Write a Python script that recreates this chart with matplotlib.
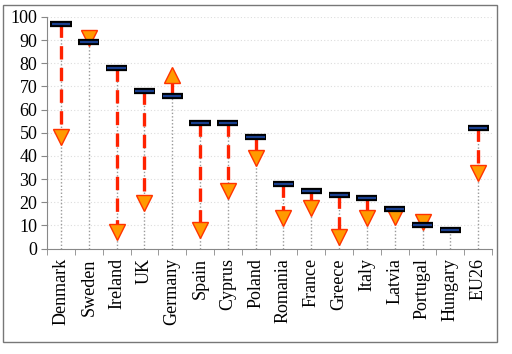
import matplotlib.pyplot as plt
import numpy as np
from matplotlib.patches import Rectangle

countries = ['Denmark', 'Sweden', 'Ireland', 'UK', 'Germany', 'Spain', 'Cyprus',
             'Poland', 'Romania', 'France', 'Greece', 'Italy', 'Latvia',
             'Portugal', 'Hungary', 'EU26']
# level before (dash markers) and level after (triangle markers)
before = [97, 89, 78, 68, 66, 54, 54, 48, 28, 25, 23, 22, 17, 10, 8, 52]
after = [48, 91, 7, 19.5, 75, 8, 25, 39, 13, 17.5, 5, 13, 13.5, 11.5, np.nan, 32.5]

plt.rcParams.update({'font.family': 'Liberation Serif', 'font.size': 13})

fig = plt.figure(figsize=(5.12, 3.54), dpi=100)
ax = fig.add_axes([0.092, 0.298, 0.869, 0.654])

x = np.arange(len(countries))
before = np.array(before, dtype=float)
after = np.array(after, dtype=float)

# grey drop lines down to the axis
ax.vlines(x, 0, before, colors='#999999', linestyles=(0, (1, 1.5)), linewidth=1, zorder=1)

# red dashed arrows from before to after
for xi, b, a in zip(x, before, after):
    if np.isnan(a) or abs(a - b) < 3:
        continue
    ax.plot([xi, xi], [b, a], color='#ff2200', linestyle=(0, (4, 2.5)), linewidth=2.4, zorder=2)

# small changes are still drawn as downward markers
up = after > before + 3
down = ~up & ~np.isnan(after)
ax.plot(x[down], after[down], linestyle='none', marker='v', markersize=12,
        markerfacecolor='#ff9a00', markeredgecolor='#ff3300', markeredgewidth=1, zorder=3)
ax.plot(x[up], after[up], linestyle='none', marker='^', markersize=12,
        markerfacecolor='#ff9a00', markeredgecolor='#ff3300', markeredgewidth=1, zorder=3)

# dash markers for the starting level
ax.hlines(before, x - 0.38, x + 0.38, colors='black', linewidth=4.5, zorder=4)
ax.hlines(before, x - 0.33, x + 0.33, colors='#1a3f8f', linewidth=1.6, zorder=5)

ax.set_xlim(-0.5, len(countries) - 0.5)
ax.set_ylim(0, 100)
ax.set_yticks(range(0, 101, 10))
ax.yaxis.grid(True, color='#dddddd', linestyle=(0, (1, 2)), linewidth=0.8)
ax.set_axisbelow(True)

ax.set_xticks(x)
ax.set_xticklabels(countries, rotation=90)
ax.set_xticks(np.arange(-0.5, len(countries)), minor=True)
ax.tick_params(axis='x', which='major', length=0, pad=7)
ax.tick_params(axis='x', which='minor', length=4, color='#888888')
ax.tick_params(axis='y', length=4, color='#888888', pad=3)

for s in ['top', 'right']:
    ax.spines[s].set_visible(False)
for s in ['left', 'bottom']:
    ax.spines[s].set_color('#888888')

fig.patches.append(Rectangle((0.006, 0.034), 0.965, 0.952, transform=fig.transFigure,
                             fill=False, edgecolor='#777777', linewidth=1))

fig.savefig('out.png', dpi=100)
